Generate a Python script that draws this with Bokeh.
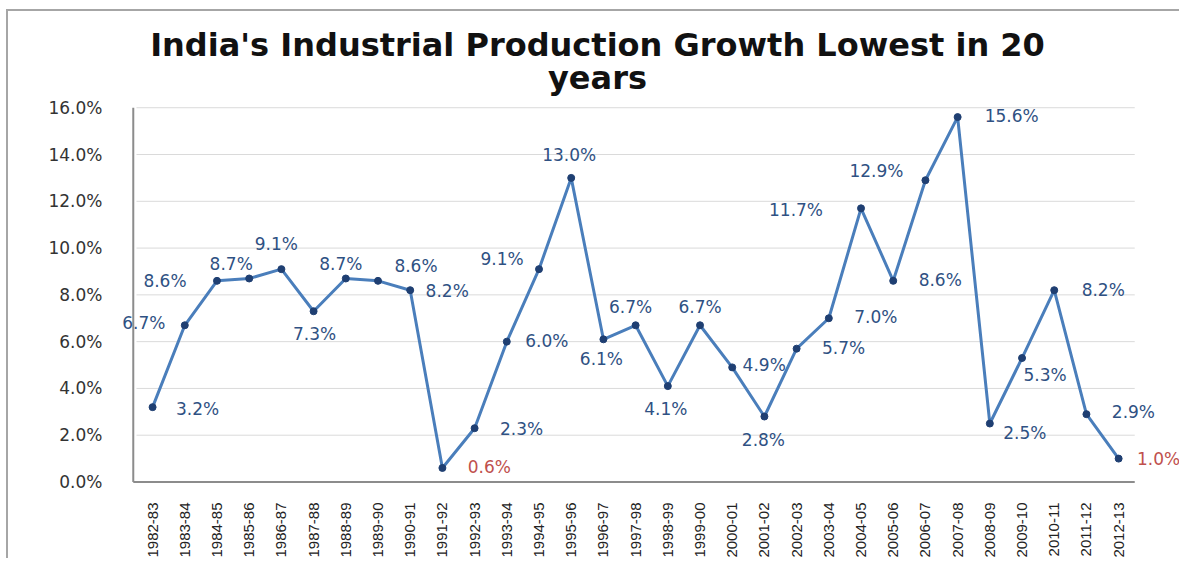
import math
from bokeh.plotting import figure
from bokeh.models import ColumnDataSource, Range1d, LabelSet, Label, PrintfTickFormatter, FixedTicker
from bokeh.core.properties import value
from bokeh.embed import file_html
from bokeh.resources import INLINE

years = ["1982-83", "1983-84", "1984-85", "1985-86", "1986-87", "1987-88", "1988-89",
         "1989-90", "1990-91", "1991-92", "1992-93", "1993-94", "1994-95", "1995-96",
         "1996-97", "1997-98", "1998-99", "1999-00", "2000-01", "2001-02", "2002-03",
         "2003-04", "2004-05", "2005-06", "2006-07", "2007-08", "2008-09", "2009-10",
         "2010-11", "2011-12", "2012-13"]
growth = [3.2, 6.7, 8.6, 8.7, 9.1, 7.3, 8.7, 8.6, 8.2, 0.6, 2.3, 6.0, 9.1, 13.0,
          6.1, 6.7, 4.1, 6.7, 4.9, 2.8, 5.7, 7.0, 11.7, 8.6, 12.9, 15.6, 2.5, 5.3,
          8.2, 2.9, 1.0]
y_ticks = [0, 2, 4, 6, 8, 10, 12, 14, 16]
title_lines = ["India's Industrial Production Growth Lowest in 20", "years"]

# label placement (screen px, image coordinates: +dx right, +dy down)
label_dx = [45, -41, -52, -18, -5, 1, -5, 38, 37, 47, 47, 40, -37, -2, -2, -5, -2, 0, 32, -1,
            47, 47, -65, 47, -49, 54, 35, 23, 49, 47, 40]
label_dy = [2, -2, 0, -14, -25, 23, -14, -15, 1, -1, 1, -1, -10, -23, 20, -18, 23, -18, -2, 23,
            -1, -1, 2, -1, -9, -1, 9, 17, 0, -2, 0]
highlight = {"1991-92", "2012-13"}

idx = list(range(len(years)))
n = len(years)
label_colors = ["#c0504d" if y in highlight else "#2f5183" for y in years]
src = ColumnDataSource(dict(
    x=idx, y=growth,
    text=[f"{v:.1f}%" for v in growth],
    dx=label_dx, dy=[-d for d in label_dy],
    color=label_colors,
))

p = figure(x_range=Range1d(-1.307, 31.89), y_range=Range1d(-0.064, 19.9),
           width=1173, height=549, output_backend="svg", toolbar_location=None,
           min_border_left=102, min_border_right=2, min_border_top=5, min_border_bottom=73)
p.styles = {"border-top": "2px solid #a6a6a6", "border-left": "2px solid #a6a6a6",
            "margin-left": "6px", "margin-top": "9px"}
p.outline_line_color = None
p.background_fill_color = "white"
p.border_fill_color = "white"
p.xgrid.grid_line_color = None
p.ygrid.grid_line_color = None

# gridlines and axis lines limited to the category span
grid_y = y_ticks[1:]
p.segment(x0=[-0.5] * len(grid_y), x1=[n - 0.5] * len(grid_y), y0=grid_y, y1=grid_y,
          line_color="#dadada", line_width=1)
p.segment(x0=[-0.6], x1=[n - 0.5], y0=[0], y1=[0], line_color="#8c8c8c", line_width=2)
p.segment(x0=[-0.6], x1=[-0.6], y0=[0], y1=[y_ticks[-1]], line_color="#8c8c8c", line_width=2)

p.line("x", "y", source=src, line_color="#4a7ebb", line_width=3)
p.scatter("x", "y", source=src, size=7, fill_color="#1f3f72", line_color="#1f3f72")

labels = LabelSet(x="x", y="y", text="text", source=src, x_offset="dx", y_offset="dy",
                  text_align="center", text_baseline="middle", text_color="color",
                  text_font=value("DejaVu Sans"), text_font_size="17px")
p.add_layout(labels)

# axes
p.yaxis.ticker = FixedTicker(ticks=y_ticks)
p.yaxis.formatter = PrintfTickFormatter(format="%.1f%%")
p.yaxis.major_label_text_font = "DejaVu Sans"
p.yaxis.major_label_text_font_size = "17px"
p.yaxis.major_label_text_color = "#333333"
p.yaxis.major_label_standoff = 2
p.yaxis.major_tick_line_color = None
p.yaxis.minor_tick_line_color = None
p.yaxis.axis_line_color = None

p.xaxis.ticker = FixedTicker(ticks=idx)
p.xaxis.major_label_overrides = {i: y for i, y in zip(idx, years)}
p.xaxis.major_label_orientation = math.pi / 2
p.xaxis.major_label_text_font = "Liberation Sans"
p.xaxis.major_label_text_font_size = "15px"
p.xaxis.major_label_text_color = "#222222"
p.xaxis.major_label_standoff = 13
p.xaxis.major_tick_line_color = None
p.xaxis.minor_tick_line_color = None
p.xaxis.axis_line_color = None

# title (two lines, positioned relative to the plot frame)
for line_text, yy in zip(title_lines, [439, 406]):
    p.add_layout(Label(x=487, y=yy, x_units="screen", y_units="screen", text=line_text,
                       text_align="center", text_baseline="middle",
                       text_font="DejaVu Sans", text_font_style="bold",
                       text_font_size="32px", text_color="#111111"))

open("out.html", "w").write(file_html(p, INLINE))
